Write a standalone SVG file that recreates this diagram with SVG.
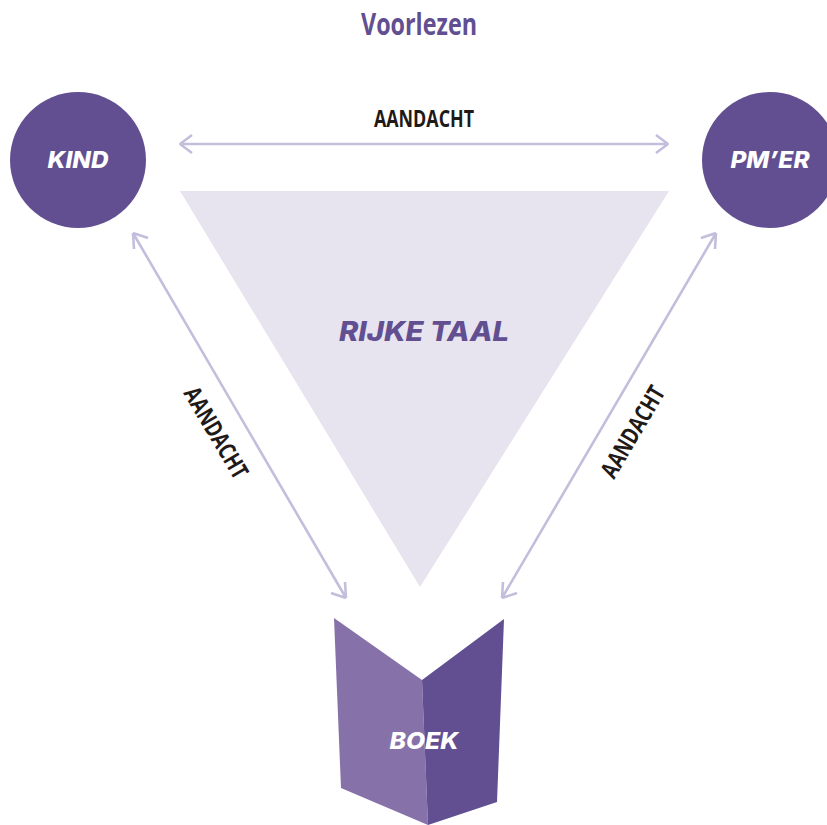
<svg xmlns="http://www.w3.org/2000/svg" width="827" height="825" viewBox="0 0 827 825">
<defs>
<style>
.hub{fill:#624f91}
.nl{font-family:"Inter","Lato",sans-serif;font-style:italic;font-weight:800;fill:#fff;font-size:23px;text-anchor:middle}
.ad{font-family:"Open Sans","Noto Sans",sans-serif;font-weight:700;fill:#1f1a17;font-size:24px;text-anchor:middle}
.c{fill:none;stroke:#c3bedc;stroke-width:2.6;stroke-linejoin:bevel}
</style>
</defs>
<rect width="827" height="825" fill="#fff"/>
<text id="title" x="419" y="35" text-anchor="middle" textLength="116" lengthAdjust="spacingAndGlyphs" style="font-family:'Open Sans','Noto Sans',sans-serif;font-weight:700;font-size:30px;fill:#624f91">Voorlezen</text>
<g id="triangle"><path d="M180 191H669L420 587Z" fill="#e7e4f0"/>
<text x="424" y="341" textLength="170" lengthAdjust="spacingAndGlyphs" style="font-family:Inter,Lato,sans-serif;font-style:italic;font-weight:800;font-size:27px;fill:#624f91;text-anchor:middle">RIJKE TAAL</text></g>
<g id="connectors" class="c">
<path d="M180 144H668M192 135L180 144L192 153M656 135L668 144L656 153"/>
<path d="M133 233L346 598M133 233L148 238M133 233L134 249M346 598L331 593M346 598L345 582"/>
<path d="M716 233L502 598M716 233L701 238M716 233L715 249M502 598L517 593M502 598L503 582"/>
</g>
<g id="connector-labels">
<text class="ad" x="424" y="127" textLength="100" lengthAdjust="spacingAndGlyphs">AANDACHT</text>
<text class="ad" transform="translate(209 437) rotate(59.5)" textLength="102" lengthAdjust="spacingAndGlyphs">AANDACHT</text>
<text class="ad" transform="translate(640 436) rotate(-59.5)" textLength="102" lengthAdjust="spacingAndGlyphs">AANDACHT</text>
</g>
<g id="kind"><circle class="hub" cx="78" cy="160" r="68"/><text class="nl" x="78" y="168" textLength="61" lengthAdjust="spacingAndGlyphs">KIND</text></g>
<g id="pmer"><circle class="hub" cx="770" cy="160" r="68"/><text class="nl" x="770" y="168" textLength="79" lengthAdjust="spacingAndGlyphs">PM’ER</text></g>
<g id="boek">
<path d="M334 618L422 680L428 825L341 788Z" fill="#8672a9"/>
<path d="M504 619L422 680L428 825L497 802Z" fill="#624f91"/>
<text class="nl" x="424" y="749" textLength="69" lengthAdjust="spacingAndGlyphs">BOEK</text>
</g>
</svg>
